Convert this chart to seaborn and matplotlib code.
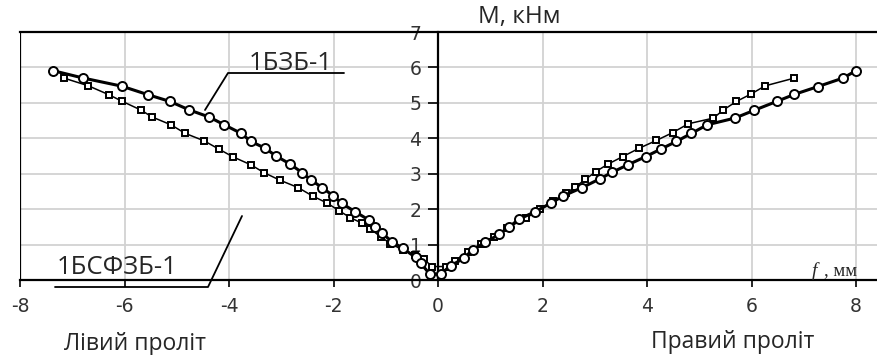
import numpy as np
import pandas as pd
import seaborn as sns
import matplotlib.pyplot as plt
from matplotlib.lines import Line2D

# 1БЗБ-1 (circles), deflection f (mm) vs moment M (kN*m)
f_bzb = [-7.37, -6.79, -6.05, -5.55, -5.13, -4.76, -4.38, -4.09, -3.77, -3.58,
         -3.31, -3.10, -2.84, -2.60, -2.44, -2.22, -2.01, -1.84, -1.59, -1.32,
         -1.20, -1.07, -0.88, -0.68, -0.43, -0.33, -0.16,
         0.05, 0.24, 0.49, 0.66, 0.90, 1.17, 1.36, 1.54, 1.86, 2.16,
         2.39, 2.76, 3.09, 3.33, 3.63, 3.97, 4.27, 4.56, 4.85, 5.15,
         5.68, 6.05, 6.48, 6.82, 7.27, 7.75, 8.00]
m_bzb = [5.91, 5.70, 5.47, 5.23, 5.04, 4.80, 4.60, 4.38, 4.14, 3.91,
         3.72, 3.50, 3.28, 3.03, 2.83, 2.61, 2.38, 2.16, 1.93, 1.69,
         1.50, 1.32, 1.08, 0.90, 0.64, 0.47, 0.17,
         0.17, 0.40, 0.61, 0.85, 1.06, 1.29, 1.49, 1.71, 1.93, 2.17,
         2.37, 2.61, 2.85, 3.04, 3.25, 3.48, 3.70, 3.91, 4.14, 4.38,
         4.57, 4.79, 5.04, 5.24, 5.46, 5.70, 5.91]

# 1БСФЗБ-1 (squares)
f_bsfzb = [-7.16, -6.69, -6.30, -6.04, -5.69, -5.47, -5.11, -4.84, -4.48, -4.20,
           -3.93, -3.58, -3.33, -3.03, -2.68, -2.40, -2.12, -1.90, -1.68, -1.45,
           -1.30, -1.10, -0.91, -0.68, -0.45, -0.27, -0.11,
           0.15, 0.32, 0.57, 0.82, 1.07, 1.32, 1.68, 1.95, 2.20, 2.45,
           2.62, 2.82, 3.02, 3.25, 3.53, 3.85, 4.18, 4.49, 4.79, 5.27,
           5.46, 5.71, 5.99, 6.26, 6.82]
m_bsfzb = [5.70, 5.48, 5.23, 5.04, 4.80, 4.60, 4.38, 4.14, 3.93, 3.70,
           3.48, 3.25, 3.03, 2.82, 2.61, 2.37, 2.17, 1.96, 1.76, 1.60,
           1.45, 1.22, 1.03, 0.85, 0.70, 0.58, 0.38,
           0.38, 0.55, 0.78, 1.02, 1.22, 1.47, 1.74, 2.00, 2.22, 2.45,
           2.62, 2.84, 3.06, 3.27, 3.48, 3.72, 3.94, 4.16, 4.41, 4.57,
           4.80, 5.04, 5.25, 5.48, 5.70]

x_ticks = [-8, -6, -4, -2, 0, 2, 4, 6, 8]
y_ticks = [0, 1, 2, 3, 4, 5, 6, 7]

W, H = 877, 355

def fx(px):
    return px / W

def fy(py):
    return 1 - py / H

sns.set_theme(style='white')
plt.rcParams['font.family'] = ['DejaVu Sans']
plt.rcParams['axes.unicode_minus'] = False

fig = plt.figure(figsize=(W / 100, H / 100), dpi=100)
ax = fig.add_axes([fx(20), fy(280), fx(857), 248 / H])

df_a = pd.DataFrame({'f': f_bzb, 'M': m_bzb})
df_b = pd.DataFrame({'f': f_bsfzb, 'M': m_bsfzb})

sns.lineplot(data=df_b, x='f', y='M', sort=False, estimator=None, ax=ax,
             color='black', lw=1.1, marker='s', markersize=5,
             markerfacecolor='white', markeredgecolor='black', markeredgewidth=1.4,
             zorder=4)
sns.lineplot(data=df_a, x='f', y='M', sort=False, estimator=None, ax=ax,
             color='black', lw=2.2, marker='o', markersize=6.5,
             markerfacecolor='white', markeredgecolor='black', markeredgewidth=1.4,
             zorder=5)

ax.set_xlim(-8, 8.4)
ax.set_ylim(0, 7)
ax.set_xticks(x_ticks)
ax.set_yticks(y_ticks)
ax.set_xlabel('')
ax.set_ylabel('')

ax.grid(True, color='#d2d2d2', lw=1.3, zorder=0)
ax.set_axisbelow(True)

for s in ['top', 'bottom', 'left']:
    ax.spines[s].set_color('black')
    ax.spines[s].set_linewidth(1.6)
ax.spines['right'].set_visible(False)
ax.spines['left'].set_position(('data', 0))
ax.axvline(-8, color='black', lw=1.6, zorder=3)

ax.tick_params(axis='x', direction='out', length=5, width=1.2, pad=7,
               labelsize=13.5, colors='black', bottom=True)
ax.tick_params(axis='y', direction='out', length=7, width=1.2, pad=5,
               labelsize=13.5, colors='black', left=True)
for lab in ax.get_xticklabels() + ax.get_yticklabels():
    lab.set_color('#333333')

# texts
fig.text(fx(519), fy(17), 'М, кНм', family='Open Sans', fontsize=17.5,
         ha='center', va='center')
fig.text(fx(135), fy(344), 'Лівий проліт', family='Open Sans', fontsize=16.5,
         ha='center', va='center')
fig.text(fx(733), fy(342), 'Правий проліт', family='Open Sans', fontsize=16.5,
         ha='center', va='center')
fig.text(fx(812), fy(271), 'f', family='Liberation Serif', style='italic',
         fontsize=14, ha='left', va='center')
fig.text(fx(824), fy(271), ', мм', family='Liberation Serif', fontsize=13.5,
         ha='left', va='center')

fig.text(fx(291), fy(63), '1БЗБ-1', family='Open Sans', fontsize=18.5,
         ha='center', va='center')
fig.add_artist(Line2D([fx(205), fx(228), fx(344)], [fy(110), fy(73), fy(73)],
                      color='black', lw=1.3))

fig.text(fx(117), fy(267), '1БСФЗБ-1', family='Open Sans', fontsize=18.5,
         ha='center', va='center')
fig.add_artist(Line2D([fx(55), fx(208), fx(242)], [fy(287), fy(287), fy(216)],
                      color='black', lw=1.3))

plt.savefig('out.png', dpi=100)
